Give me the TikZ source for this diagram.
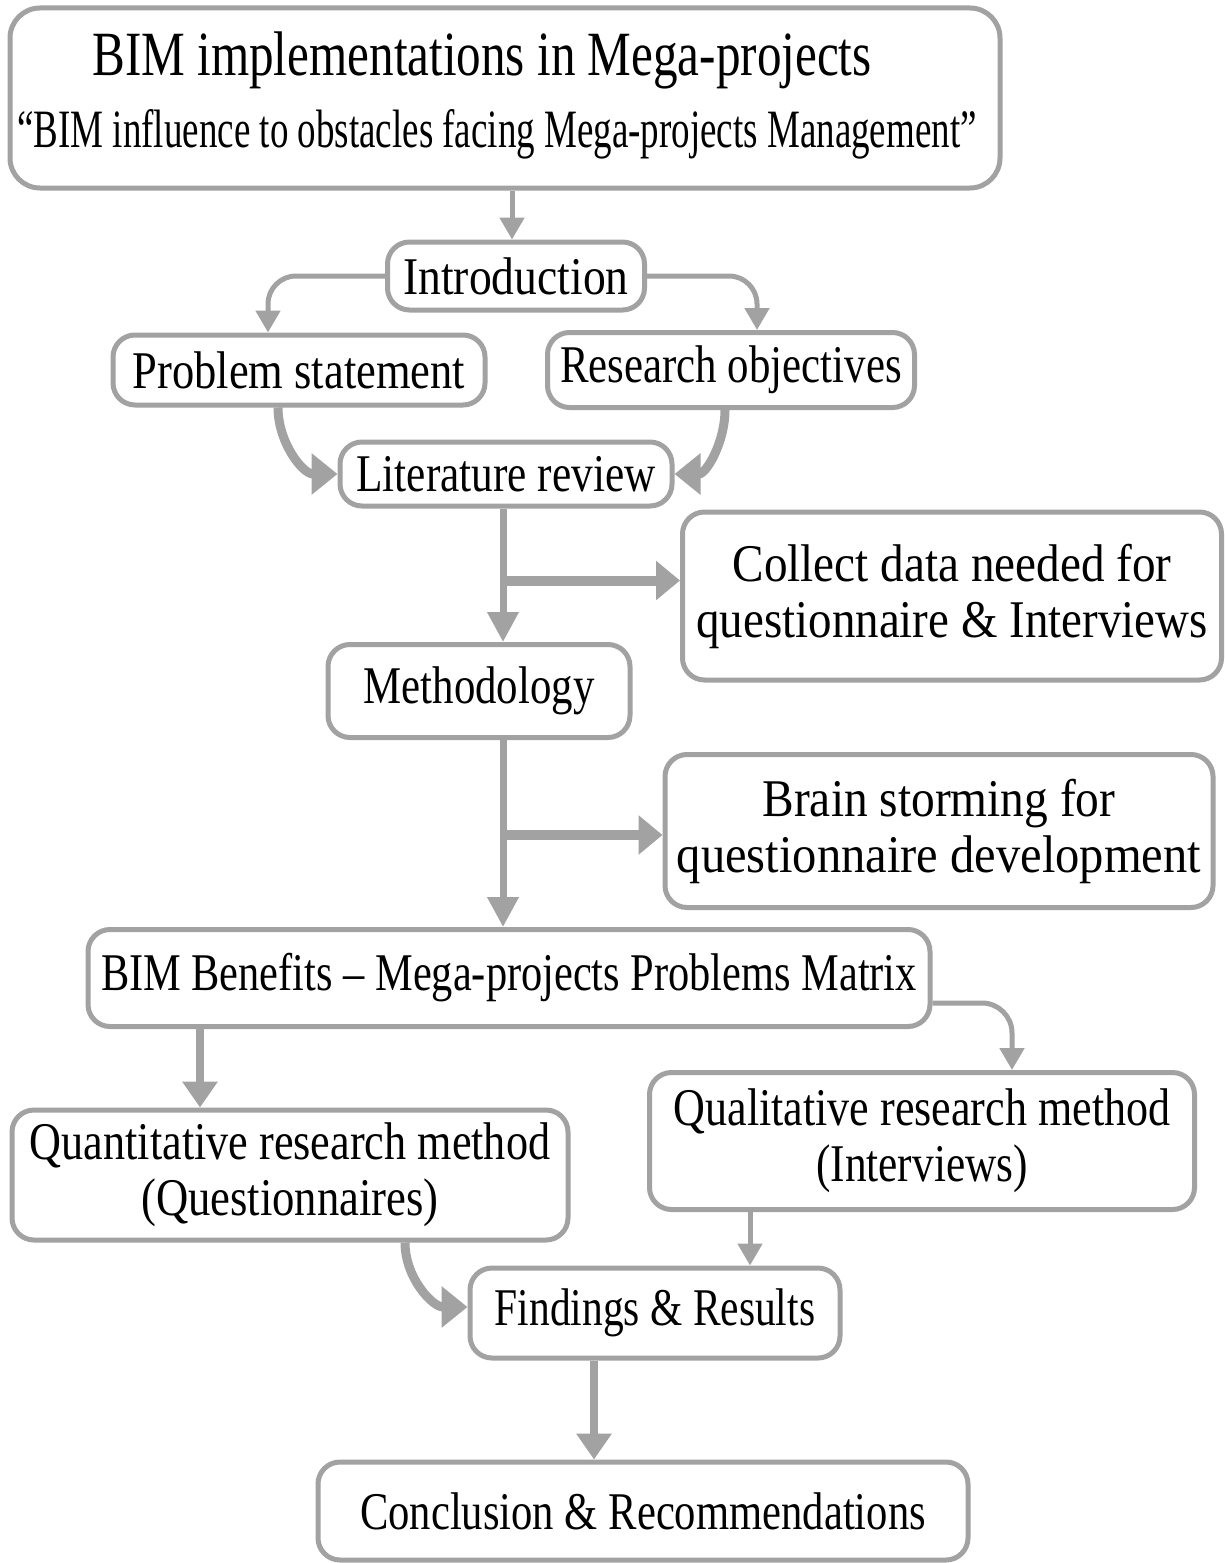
\documentclass[tikz,border=0pt]{standalone}
\usepackage{graphicx}
\usepackage{fontspec}
\setmainfont{Liberation Serif}
\newfontfamily\bodyfont[FakeStretch=0.86]{Liberation Serif}
\newfontfamily\headfont[FakeStretch=0.78]{Liberation Serif}
\newfontfamily\subheadfont[FakeStretch=0.685]{Liberation Serif}
\usetikzlibrary{arrows.meta,calc}
\definecolor{linegray}{RGB}{162,162,162}
% horizontal squeeze of one line of text
\newcommand{\sqz}[2]{\scalebox{#1}[1]{#2}}
\begin{document}
\begin{tikzpicture}[x=1pt,y=-1pt,
  box/.style={draw=linegray, line width=5pt, rounded corners=22pt, fill=white,
    align=center, inner sep=0pt, font=\bodyfont\fontsize{53}{56}\selectfont},
  thinline/.style={draw=linegray, line width=5pt, -{Triangle[length=22pt,width=24pt]}},
  thickline/.style={draw=linegray, line width=8pt, -{Triangle[length=26pt,width=34pt]}},
  trunkline/.style={draw=linegray, line width=7pt, -{Triangle[length=30pt,width=30pt]}},
  branchline/.style={draw=linegray, line width=10pt, -{Triangle[length=24pt,width=38pt]}},
  curvedline/.style={draw=linegray, line width=9pt, -{Triangle[length=26pt,width=40pt]}},
]
\useasboundingbox (0,0) rectangle (1225,1563);
\fill[white] (0,0) rectangle (1225,1563);

% boxes
\node[box, rounded corners=30pt, minimum width=990pt, minimum height=180pt] (top) at (505,98) {};
\node[anchor=base, font=\headfont\fontsize{63}{66}\selectfont] (title) at (482,76) {BIM implementations in Mega-projects};
\node[anchor=base, font=\subheadfont\fontsize{54}{56}\selectfont] (subtitle) at (497,147) {“BIM influence to obstacles facing Mega-projects Management”};

\node[box, minimum width=257pt, minimum height=68pt] (intro) at (516,276) {Introduction};
\node[box, minimum width=372pt, minimum height=70pt] (problem) at (299,370) {\sqz{0.976}{Problem statement}};
\node[box, minimum width=367pt, minimum height=75pt] (research) at (731,370) {\sqz{0.94}{Research objectives}};
\node[box, minimum width=332pt, minimum height=64pt] (lit) at (506,474) {\sqz{0.95}{Literature review}};
\node[box, minimum width=539pt, minimum height=168pt] (collect) at (952,596) {\sqz{1.035}{Collect data needed for}\\\sqz{1.03}{questionnaire \& Interviews}};
\node[box, minimum width=302pt, minimum height=93pt] (meth) at (479,691) {\sqz{0.94}{Methodology}};
\node[box, minimum width=548pt, minimum height=153pt] (brain) at (939,831) {\sqz{1.04}{Brain storming for}\\\sqz{1.065}{questionnaire development}};
\node[box, minimum width=842pt, minimum height=97pt] (bim) at (509,978) {\sqz{0.93}{BIM Benefits – Mega-projects Problems Matrix}};
\node[box, minimum width=556pt, minimum height=130pt] (quant) at (290,1175) {\sqz{0.97}{Quantitative research method}\\\sqz{0.98}{(Questionnaires)}};
\node[box, minimum width=545pt, minimum height=137pt] (qual) at (922,1141) {\sqz{0.967}{Qualitative research method}\\\sqz{0.95}{(Interviews)}};
\node[box, minimum width=370pt, minimum height=90pt] (find) at (655,1313) {\sqz{0.91}{Findings \& Results}};
\node[box, minimum width=650pt, minimum height=98pt] (concl) at (643,1511) {\sqz{0.935}{Conclusion \& Recommendations}};

% connectors
\draw[thinline] ([xshift=-4pt]top.south -| intro.north) -- ([xshift=-4pt]intro.north);
\draw[thinline, rounded corners=28pt] (intro.west) -| ([xshift=-31pt]problem.north);
\draw[thinline, rounded corners=28pt] (intro.east) -| ([xshift=26pt]research.north);
\draw[curvedline] ([xshift=-21pt]problem.south) to[out=-90,in=180] (lit.west);
\draw[curvedline] ([xshift=-6pt]research.south) to[out=-90,in=0] (lit.east);

\draw[trunkline] ([xshift=-3pt]lit.south) -- ([xshift=-3pt]lit.south |- meth.north);
\coordinate (b1) at ($(lit.south)+(-3,72)$);
\draw[branchline] (b1) -- (b1 -| collect.west);

\draw[trunkline] ([xshift=-3pt]meth.south -| lit.south) -- ([xshift=-3pt]bim.north -| lit.south);
\coordinate (b2) at ($(meth.south -| lit.south)+(-3,95)$);
\draw[branchline] (b2) -- (b2 -| brain.west);

\draw[thickline] ([xshift=-90pt]quant.north |- bim.south) -- ([xshift=-90pt]quant.north);
\draw[thinline, rounded corners=30pt] ([yshift=-25pt]bim.east) -| ([xshift=90pt]qual.north);
\draw[thinline] ([xshift=-172pt]qual.south) -- ([xshift=-172pt]qual.south |- find.north);
\draw[curvedline] ([xshift=115pt]quant.south) to[out=-90,in=180] ([yshift=6pt]find.west);
\draw[thickline] ([xshift=-61pt]find.south) -- ([xshift=-61pt]find.south |- concl.north);
\end{tikzpicture}
\end{document}
